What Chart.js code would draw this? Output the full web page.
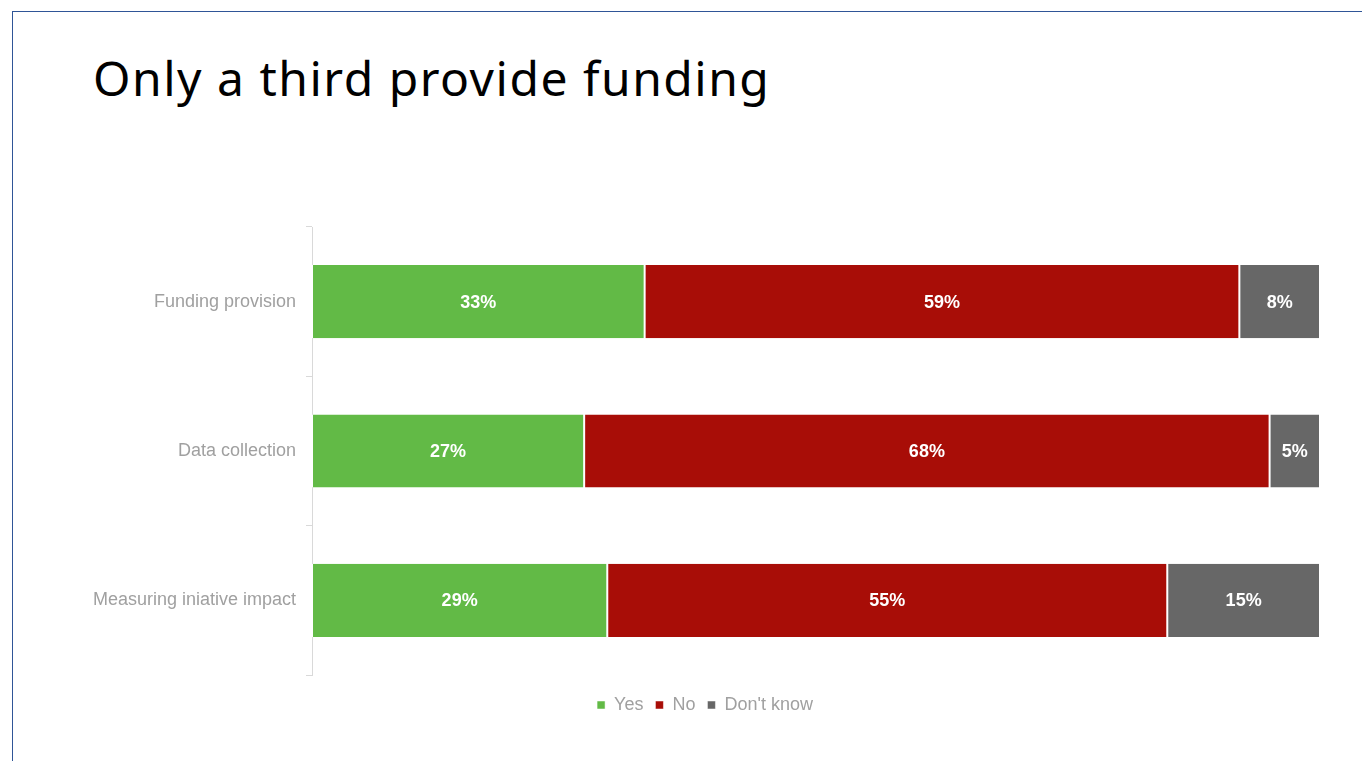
<!DOCTYPE html>
<html>
<head>
<meta charset="utf-8">
<script src="https://cdn.jsdelivr.net/npm/chart.js@4"></script>
<style>
  html, body { margin: 0; padding: 0; background: #fff; }
  body { width: 1362px; height: 761px; position: relative; overflow: hidden; }
  .frame {
    position: absolute; left: 12px; top: 11px; right: -10px; bottom: -10px;
    border-top: 1.5px solid #2f5597; border-left: 1.5px solid #2f5597;
  }
  h1 {
    position: absolute; left: 93px; top: 45px; margin: 0;
    font-family: "Noto Sans", sans-serif; font-weight: 400; font-size: 48px;
    color: #000; letter-spacing: 1.5px;
  }
  .chart-box { position: absolute; left: 0; top: 0; width: 1362px; height: 761px; }
</style>
</head>
<body>
<div class="frame"></div>
<h1>Only a third provide funding</h1>
<div class="chart-box"><canvas id="myChart"></canvas></div>

<script>
// Survey answers, in percent
const categories = ['Funding provision', 'Data collection', 'Measuring iniative impact'];
const yesValues = [33, 27, 29];
const noValues = [59, 68, 55];
const dontKnowValues = [8, 5, 15];
const seriesNames = ['Yes', 'No', "Don't know"];

const seriesColors = ['#62ba46', '#a80d07', '#676767'];
const allSeries = [yesValues, noValues, dontKnowValues];

// 100% stacked: each row is scaled to its own total
const rowTotals = categories.map((c, i) => allSeries.reduce((s, arr) => s + arr[i], 0));

const datasets = allSeries.map((values, k) => ({
    label: seriesNames[k],
    data: values.map((v, i) => v / rowTotals[i] * 100),
    rawValues: values,
    backgroundColor: seriesColors[k],
    borderColor: '#ffffff',
    borderWidth: { left: 1, right: 1, top: 0, bottom: 0 },
    borderSkipped: false,
    barPercentage: 0.49,
    categoryPercentage: 1.0
}));

// white percent labels in the middle of each segment
const valueLabels = {
    id: 'valueLabels',
    afterDatasetsDraw(chart) {
        const ctx = chart.ctx;
        ctx.save();
        ctx.fillStyle = '#ffffff';
        ctx.font = 'bold 18px "Liberation Sans", Arial, sans-serif';
        ctx.textAlign = 'center';
        ctx.textBaseline = 'middle';
        chart.data.datasets.forEach((ds, k) => {
            const meta = chart.getDatasetMeta(k);
            meta.data.forEach((bar, i) => {
                const p = bar.getCenterPoint();
                ctx.fillText(ds.rawValues[i] + '%', p.x, p.y + 1);
            });
        });
        ctx.restore();
    }
};

const myChart = document.getElementById('myChart');

let barChart = new Chart(myChart, {
    type: 'bar',
    data: {
        labels: categories,
        datasets: datasets
    },
    options: {
        indexAxis: 'y',
        responsive: true,
        maintainAspectRatio: false,
        animation: false,
        layout: {
            // left padding pushes the centred legend right; the y axis keeps its place
            padding: { left: 90, right: 42, top: 227, bottom: 37 }
        },
        scales: {
            x: {
                stacked: true,
                min: 0,
                max: 100,
                display: false
            },
            y: {
                stacked: true,
                afterFit: scale => { scale.width = 222; },
                grid: {
                    offset: true,
                    drawOnChartArea: false,
                    drawTicks: true,
                    tickLength: 6,
                    color: '#d9d9d9'
                },
                border: { display: true, color: '#d9d9d9', width: 1 },
                ticks: {
                    color: '#a0a0a0',
                    padding: 10,
                    font: { family: '"Liberation Sans", Arial, sans-serif', size: 18 }
                }
            }
        },
        plugins: {
            legend: {
                position: 'bottom',
                // empty title just adds a little gap above the legend items
                title: {
                    display: true,
                    text: ' ',
                    font: { size: 1, lineHeight: 1 },
                    padding: { top: 8, bottom: 0 }
                },
                labels: {
                    boxWidth: 8,
                    boxHeight: 8,
                    padding: 12,
                    color: '#a0a0a0',
                    font: { family: '"Liberation Sans", Arial, sans-serif', size: 18 }
                }
            },
            tooltip: { enabled: false }
        }
    },
    plugins: [valueLabels]
});
</script>
</body>
</html>
